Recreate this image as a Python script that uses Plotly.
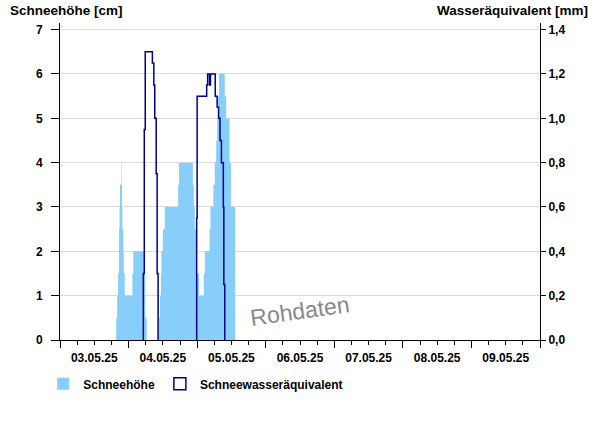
import plotly.graph_objects as go

# Schneehöhe [cm] (step series, value valid from the given time)
snow_time = [
    "2025-05-03 19:00", "2025-05-03 19:40", "2025-05-03 20:00", "2025-05-03 20:20",
    "2025-05-03 20:40", "2025-05-03 20:50", "2025-05-03 21:00", "2025-05-03 21:20",
    "2025-05-03 21:30", "2025-05-03 21:40", "2025-05-03 21:50", "2025-05-03 22:10",
    "2025-05-03 22:20", "2025-05-03 22:40", "2025-05-04 01:20", "2025-05-04 01:40",
    "2025-05-04 05:20", "2025-05-04 05:50", "2025-05-04 06:20", "2025-05-04 10:40",
    "2025-05-04 11:00", "2025-05-04 11:20", "2025-05-04 11:30", "2025-05-04 12:00",
    "2025-05-04 12:40", "2025-05-04 17:20", "2025-05-04 17:40", "2025-05-04 22:30",
    "2025-05-04 22:50", "2025-05-04 23:10", "2025-05-04 23:50", "2025-05-05 00:40",
    "2025-05-05 02:20", "2025-05-05 02:40", "2025-05-05 04:20", "2025-05-05 04:40",
    "2025-05-05 05:40", "2025-05-05 06:10", "2025-05-05 06:40", "2025-05-05 07:00",
    "2025-05-05 07:20", "2025-05-05 07:40", "2025-05-05 09:40", "2025-05-05 10:10",
    "2025-05-05 11:20", "2025-05-05 11:50", "2025-05-05 13:20",
]
snow_cm = [
    0, 0.5, 1.0, 1.5,
    2.5, 3.0, 3.5, 4.0,
    3.5, 3.0, 2.5, 2.0,
    1.5, 1.0, 1.5, 2.0,
    1.5, 0.5, 0, 0.5,
    1.0, 1.5, 2.0, 2.5,
    3.0, 3.5, 4.0, 3.5,
    3.0, 2.5, 1.5, 1.0,
    1.5, 2.0, 2.5, 3.0,
    3.5, 4.0, 4.5, 5.0,
    5.5, 6.0, 5.5, 5.0,
    4.0, 3.0, 0,
]

# Schneewasseräquivalent [mm] (step series)
swe_time = [
    "2025-05-04 05:00", "2025-05-04 05:10", "2025-05-04 05:30", "2025-05-04 05:50",
    "2025-05-04 08:20", "2025-05-04 08:50", "2025-05-04 09:10", "2025-05-04 09:40",
    "2025-05-04 10:00", "2025-05-04 10:20", None,
    "2025-05-04 23:40", "2025-05-04 23:50", "2025-05-05 00:00", "2025-05-05 03:20",
    "2025-05-05 03:40", "2025-05-05 04:20", "2025-05-05 04:40", "2025-05-05 06:20",
    "2025-05-05 07:00", "2025-05-05 07:30", "2025-05-05 08:00", "2025-05-05 08:30",
    "2025-05-05 09:10", "2025-05-05 09:20", "2025-05-05 09:40",
]
swe_mm = [
    0, 0.3, 0.95, 1.3,
    1.25, 1.15, 1.0, 0.75,
    0.3, 0, None,
    0, 0.55, 1.1, 1.15,
    1.2, 1.15, 1.2, 1.1,
    1.05, 1.0, 0.9, 0.8,
    0.6, 0.25, 0,
]

y_ticks = [0, 1, 2, 3, 4, 5, 6, 7]
y2_ticks = [0, 0.2, 0.4, 0.6, 0.8, 1.0, 1.2, 1.4]
x_start, x_end = "2025-05-03 00:00", "2025-05-10 00:00"

SNOW_COLOR = "#87CEFA"
SWE_COLOR = "#00008B"
FONT = "Liberation Sans, Arial, sans-serif"

fig = go.Figure()
fig.add_trace(go.Scatter(
    x=snow_time, y=snow_cm, mode="lines", line=dict(width=0, shape="hv", color=SNOW_COLOR),
    fill="tozeroy", fillcolor=SNOW_COLOR, showlegend=False, yaxis="y", hoverinfo="skip"))
fig.add_trace(go.Scatter(
    x=swe_time, y=swe_mm, mode="lines", line=dict(width=1.5, shape="hv", color=SWE_COLOR),
    connectgaps=False, showlegend=False, yaxis="y2", hoverinfo="skip"))
# legend keys
fig.add_trace(go.Scatter(
    x=[None], y=[None], mode="markers", name="Schneehöhe",
    marker=dict(symbol="square", size=12, color=SNOW_COLOR, line=dict(width=0))))
fig.add_trace(go.Scatter(
    x=[None], y=[None], mode="markers", name="Schneewasseräquivalent",
    marker=dict(symbol="square-open", size=12, color=SWE_COLOR, line=dict(width=1.5))))

tickfont = dict(family=FONT, size=12, color="black", weight="bold")

fig.update_layout(
    width=600, height=426,
    margin=dict(l=60, r=60, t=23, b=86, autoexpand=False),
    paper_bgcolor="white", plot_bgcolor="white",
    separators=",.",
    font=dict(family=FONT, size=12, color="black"),
    xaxis=dict(
        type="date", range=[x_start, x_end], automargin=False,
        tick0="2025-05-03", dtick=86400000, ticklabelmode="period",
        tickformat="%d.%m.%y", ticks="outside", ticklen=7, tickcolor="black",
        minor=dict(dtick=6 * 3600000, ticks="outside", ticklen=4, tickcolor="black", showgrid=False),
        showline=True, linecolor="black", linewidth=1, showgrid=False, zeroline=False,
        tickfont=tickfont,
    ),
    yaxis=dict(
        range=[0, 7.15], tickvals=y_ticks, ticks="outside", ticklen=8, tickcolor="black",
        ticklabelstandoff=6,
        showline=True, linecolor="black", linewidth=1, automargin=False,
        showgrid=True, gridcolor="#DCDCDC", gridwidth=1, zeroline=False,
        tickfont=tickfont,
    ),
    yaxis2=dict(
        range=[0, 1.43], tickvals=y2_ticks, tickformat=".1f", overlaying="y", side="right",
        ticks="outside", ticklen=5, tickcolor="black", automargin=False,
        showline=True, linecolor="black", linewidth=1, showgrid=False, zeroline=False,
        tickfont=tickfont,
    ),
    legend=dict(
        orientation="h", xref="container", yref="container", x=0.072, y=0.099,
        xanchor="left", yanchor="middle",
        font=dict(family=FONT, size=12, color="black", weight="bold"),
        bgcolor="rgba(0,0,0,0)", itemclick=False,
    ),
    annotations=[
        dict(text="Schneehöhe [cm]", xref="paper", yref="paper", x=-0.108, y=1.04,
             xanchor="left", yanchor="middle", showarrow=False,
             font=dict(family=FONT, size=13.5, color="black", weight="bold")),
        dict(text="Wasseräquivalent [mm]", xref="paper", yref="paper", x=1.104, y=1.04,
             xanchor="right", yanchor="middle", showarrow=False,
             font=dict(family=FONT, size=13.5, color="black", weight="bold")),
        dict(text="Rohdaten", xref="paper", yref="paper", x=0.5, y=0.09,
             xanchor="center", yanchor="middle", showarrow=False, textangle=-8,
             font=dict(family=FONT, size=23, color="#888888")),
    ],
)

fig.write_html("out.html", config={"displayModeBar": False},
               post_script="document.body.style.margin='0';")
